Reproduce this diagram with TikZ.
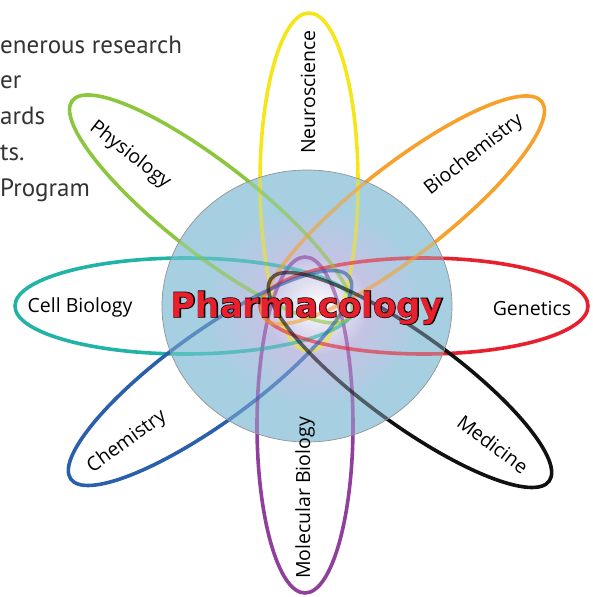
\documentclass[tikz,border=0pt]{standalone}
\usepackage{fontspec}
\setmainfont{Open Sans}
\newfontfamily\notefont{PT Sans}
\newfontfamily\headfont{DejaVu Sans Bold}
\newfontfamily\haloface[FakeBold=4]{DejaVu Sans Bold}
\usepackage{tikz}
\usetikzlibrary{calc}
\definecolor{phneuro}{HTML}{F5E61A}
\definecolor{phphys}{HTML}{8CC63F}
\definecolor{phbioc}{HTML}{F7A12C}
\definecolor{phcell}{HTML}{22B3A7}
\definecolor{phgene}{HTML}{E8202D}
\definecolor{phchem}{HTML}{2A5FAC}
\definecolor{phmedi}{HTML}{111111}
\definecolor{phmolec}{HTML}{913F9C}
\definecolor{phlav}{HTML}{C5C3E4}
\definecolor{phsky}{HTML}{A6CFE2}
\definecolor{phnote}{HTML}{333333}
\definecolor{phred}{HTML}{E81F2C}
\pgfdeclareradialshading{orb}{\pgfpoint{2bp}{0bp}}{color(0bp)=(white); color(3bp)=(phlav!35!white); color(9bp)=(phlav); color(14bp)=(phlav!50!phsky); color(19bp)=(phsky); color(25bp)=(phsky); color(50bp)=(phsky)}
\newcommand\petallist{phneuro/309/182/169/49/90, phmolec/305/425/168/48/90, phcell/185/306/170/48/0, phgene/424/306/164/48/0, phphys/211/209/176/45/-38, phbioc/403/210/176/45/38, phchem/210/378/172/45/36, phmedi/410/380/172/45/-36}

\begin{document}
\begin{tikzpicture}[x=1pt, y=-1pt,
  petal/.style={line width=3.6pt},
  ghost/.style={petal, opacity=0.6},
  topic/.style={font=\fontsize{19.5}{20}\selectfont, inner sep=0pt},
  note/.style={font=\notefont\fontsize{25}{25}\selectfont, text=phnote, anchor=base west, inner sep=0pt},
  title/.style={font=\headfont\fontsize{34}{34}\selectfont, anchor=base, inner sep=0pt}
]
\useasboundingbox (0,0) rectangle (592,597);
\coordinate (core) at (307,306);

\node[note] (line1) at (0,53) {enerous research};
\node[note] (line2) at (0,88.5) {er};
\node[note] (line3) at (0,124) {ards};
\node[note] (line4) at (0,160) {ts.};
\node[note] (line5) at (0,196) {Program};

\foreach \c/\x/\y/\a/\b/\r in \petallist
  \draw[petal, draw=\c, rotate around={\r:(\x,\y)}] (\x,\y) ellipse [x radius=\a, y radius=\b];

\shade[shading=orb] (core) ellipse [x radius=145, y radius=136];
\begin{scope}
  \clip (core) ellipse [x radius=145, y radius=136];
  \foreach \c/\x/\y/\a/\b/\r in \petallist
    \draw[ghost, draw=\c, rotate around={\r:(\x,\y)}] (\x,\y) ellipse [x radius=\a, y radius=\b];
\end{scope}
\draw[draw=gray!85, line width=0.7pt] (core) ellipse [x radius=145, y radius=136];

\node[topic, rotate=90] (neurolbl) at (308,92) {Neuroscience};
\node[topic, rotate=-38] (physlbl) at (130,155) {Physiology};
\node[topic, rotate=38] (bioclbl) at (474,155) {Biochemistry};
\node[topic] (celllbl) at (80,307) {Cell Biology};
\node[topic] (genelbl) at (532,308) {Genetics};
\node[topic, rotate=36] (chemlbl) at (127,442) {Chemistry};
\node[topic, rotate=-37] (medilbl) at (493,444) {Medicine};
\node[topic, rotate=90] (moleclbl) at (305,498) {Molecular Biology};

\node[title, font=\haloface\fontsize{34}{34}\selectfont, text=black] (halo) at (307,317) {Pharmacology};
\node[title, text=phred] (pharm) at (307,317) {Pharmacology};
\end{tikzpicture}
\end{document}
